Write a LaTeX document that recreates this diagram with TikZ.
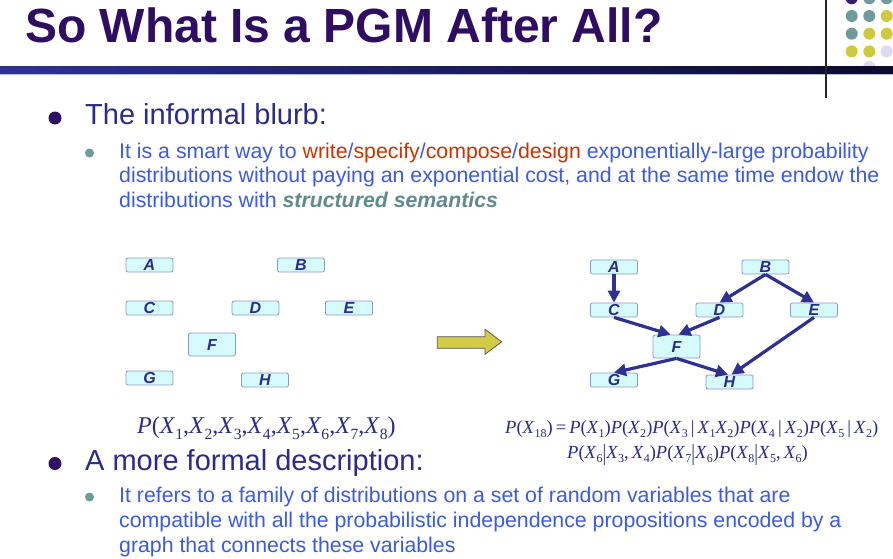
\documentclass[tikz,border=0pt]{standalone}
\usepackage{fontspec}
\setmainfont{Liberation Sans}
\newfontfamily\tms{Liberation Serif}
\usetikzlibrary{arrows.meta}
\definecolor{titlecol}{HTML}{2E0D62}
\definecolor{navy}{HTML}{2B2B8C}
\definecolor{bluetxt}{HTML}{3A5BE6}
\definecolor{redtxt}{HTML}{CC3300}
\definecolor{tealtxt}{HTML}{5F8C8A}
\definecolor{boxfill}{HTML}{D6FBFD}
\definecolor{boxdraw}{HTML}{8E98CC}
\definecolor{arrowcol}{HTML}{2E3192}
\definecolor{dotpurple}{HTML}{3B1A6E}
\definecolor{dotteal}{HTML}{6F9C9A}
\definecolor{dotyellow}{HTML}{CFC93F}
\definecolor{dotlav}{HTML}{DCDCF0}
\definecolor{arrowyellow}{HTML}{D3CB45}
\definecolor{barleft}{HTML}{2E3192}
\definecolor{barright}{HTML}{0B0B2A}
\definecolor{barlight}{HTML}{B8BCE6}
\definecolor{bulletdark}{HTML}{2E1065}
\newcommand{\vX}[1]{\textit{X}\raisebox{-0.25em}{\scalebox{0.65}{#1}}}
\newcommand{\vP}{\textit{P}}
\newcommand{\vbar}{\raisebox{-0.15em}{\scalebox{1}[1.25]{|}}}
\tikzset{
  gnode/.style={draw=boxdraw, fill=boxfill, rounded corners=2pt, minimum width=47pt,
    minimum height=14pt, inner sep=0pt, text=navy, line width=0.8pt,
    font=\fontsize{16}{16}\selectfont\bfseries\itshape},
  gbig/.style={gnode, minimum height=23pt},
  edge/.style={draw=arrowcol, line width=3.2pt, -{Triangle[length=12pt,width=12pt]}},
  lvlone/.style={inner sep=0pt, anchor=base west, text=navy, font=\fontsize{29}{34}\selectfont},
  lvltwo/.style={inner sep=0pt, anchor=base west, text=bluetxt, font=\fontsize{21.3}{25}\selectfont},
  formula/.style={inner sep=0pt, anchor=base west, text=navy},
}
\begin{document}
\begin{tikzpicture}[x=1pt, y=-1pt]
\clip (0,0) rectangle (893,558);
\fill[white] (0,0) rectangle (893,558);
% decorative dots
\foreach \r/\a/\b/\c in {0/dotpurple/dotteal/dotteal, 1/dotteal/dotteal/dotyellow,
  2/dotteal/dotyellow/dotyellow, 3/dotyellow/dotyellow/dotlav} {
  \fill[\a] (851.7,-1.7+17.7*\r) circle (6);
  \fill[\b] (869.3,-1.7+17.7*\r) circle (6);
  \fill[\c] (886.7,-1.7+17.7*\r) circle (6);
}
\fill[dotlav] (869.3,66.8) circle (6);
% bar
\shade[left color=barleft, right color=barright] (0,66.3) rectangle (893,74);
\fill[barlight] (0,74) rectangle (893,75.3);
\draw[black!85, line width=1.5pt] (826,0) -- (826,98);
% title
\node[inner sep=0pt, anchor=base west, text=titlecol, font=\fontsize{48}{50}\selectfont\bfseries] (title) at (25,42) {So What Is a PGM After All?};
% bullets
\fill[bulletdark] (55,118) circle (6.5);
\node[lvlone] (b1) at (85,124.3) {The informal blurb:};
\fill[dotteal] (89.5,153) circle (4.5);
\node[lvltwo] (s1a) at (119,158) {It is a smart way to \textcolor{redtxt}{write}/\textcolor{redtxt}{specify}/\textcolor{redtxt}{compose}/\textcolor{redtxt}{design} exponentially-large probability};
\node[lvltwo] (s1b) at (119,182.5) {distributions without paying an exponential cost, and at the same time endow the};
\node[lvltwo] (s1c) at (119,207) {distributions with \textcolor{tealtxt}{\bfseries\itshape structured semantics}};
\fill[bulletdark] (55,463.5) circle (6.5);
\node[lvlone] (b2) at (85,470) {A more formal description:};
\fill[dotteal] (89.5,497) circle (4.5);
\node[lvltwo] (s2a) at (119,502) {It refers to a family of distributions on a set of random variables that are};
\node[lvltwo] (s2b) at (119,527) {compatible with all the probabilistic independence propositions encoded by a};
\node[lvltwo] (s2c) at (119,552) {graph that connects these variables};
% left graph
\node[gnode] (lA) at (149.5,265) {A};
\node[gnode] (lB) at (301,265) {B};
\node[gnode] (lC) at (149.5,308) {C};
\node[gnode] (lD) at (255.5,308) {D};
\node[gnode] (lE) at (349,308) {E};
\node[gbig]  (lF) at (212,344.5) {F};
\node[gnode] (lG) at (149.5,378) {G};
\node[gnode] (lH) at (265,380) {H};
% big arrow
\draw[draw=black!65, fill=arrowyellow, line width=0.8pt] (437.3,336.7) -- (485,336.7) -- (485,329.3) -- (501.7,341.8) -- (485,354.3) -- (485,348.3) -- (437.3,348.3) -- cycle;
% right graph
\node[gnode] (rA) at (614,267) {A};
\node[gnode] (rB) at (765.5,267) {B};
\node[gnode] (rC) at (614,310) {C};
\node[gnode] (rD) at (719.5,310) {D};
\node[gnode] (rE) at (814,310) {E};
\node[gbig]  (rF) at (676.5,346.5) {F};
\node[gnode] (rG) at (614,380) {G};
\node[gnode] (rH) at (729.5,382) {H};
\draw[edge] (rA.south) -- (rC.north);
\draw[edge] (rB.south) -- (rD.north);
\draw[edge] (rB.south) -- (rE.north);
\draw[edge] (rC.south) -- ([xshift=-6pt]rF.north);
\draw[edge] (rD.south) -- ([xshift=2pt]rF.north);
\draw[edge] (rE.south) -- ([xshift=2pt]rH.north);
\draw[edge] (rF.south) -- (rG.north);
\draw[edge] (rF.south) -- ([xshift=-1.5pt]rH.north);
% formulas
\node[formula, font=\tms\fontsize{24}{28}\selectfont] (fl) at (137,433)
  {\vP(\vX{1},\vX{2},\vX{3},\vX{4},\vX{5},\vX{6},\vX{7},\vX{8})};
\node[formula, font=\tms\fontsize{18.5}{22}\selectfont] (fr1) at (505,433)
  {\vP(\vX{18})\,=\,\vP(\vX{1})\vP(\vX{2})\vP(\vX{3}\,|\,\vX{1}\vX{2})\vP(\vX{4}\,|\,\vX{2})\vP(\vX{5}\,|\,\vX{2})};
\node[formula, font=\tms\fontsize{18.5}{22}\selectfont] (fr2) at (567,458)
  {\vP(\vX{6}\vbar\vX{3},\,\vX{4})\vP(\vX{7}\vbar\vX{6})\vP(\vX{8}\vbar\vX{5},\,\vX{6})};
\end{tikzpicture}
\end{document}
